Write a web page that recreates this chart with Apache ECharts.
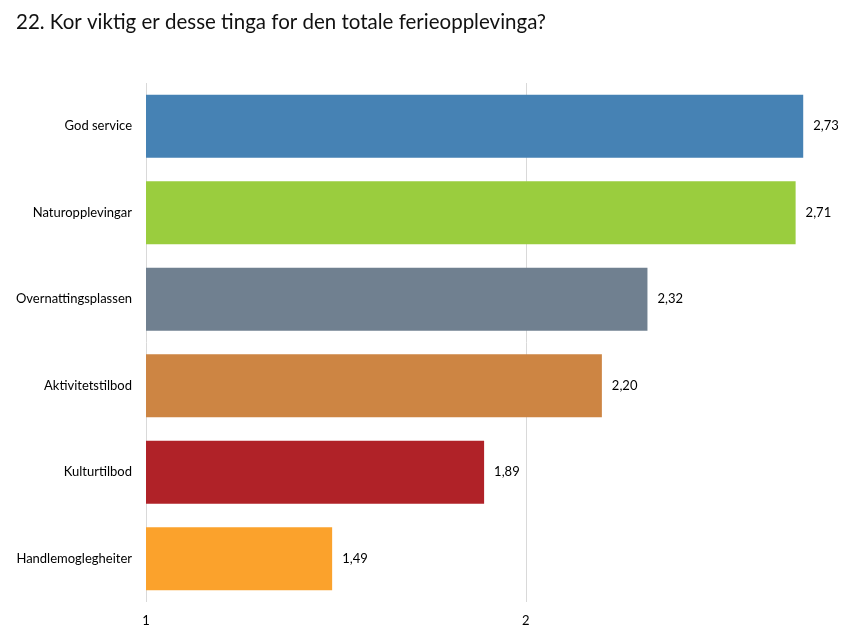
<!DOCTYPE html>
<html>
<head>
<meta charset="utf-8">
<script src="https://cdn.jsdelivr.net/npm/echarts@6/dist/echarts.min.js"></script>
<style>
  html, body { margin: 0; padding: 0; background: #fff; }
  #chart { width: 867px; height: 633px; }
</style>
</head>
<body>
<div id="chart"></div>
<script>
const categories = ['God service', 'Naturopplevingar', 'Overnattingsplassen', 'Aktivitetstilbod', 'Kulturtilbod', 'Handlemoglegheiter']
const values = [2.73, 2.71, 2.32, 2.20, 1.89, 1.49]
const colors = ['#4682B4', '#9ACD3E', '#708090', '#CD8543', '#B02228', '#FBA22C']

const chart = echarts.init(document.getElementById('chart'))

chart.setOption({
  animation: false,
  textStyle: { fontFamily: 'Lato' },
  title: {
    text: '22. Kor viktig er desse tinga for den totale ferieopplevinga?',
    left: 11,
    top: 7,
    textStyle: {
      fontFamily: 'Lato',
      fontSize: 20.5,
      fontWeight: 'normal',
      color: '#111'
    }
  },
  grid: {
    top: 83,
    bottom: 31,
    left: 146,
    right: 0,
    containLabel: false
  },
  xAxis: {
    type: 'value',
    min: 1,
    max: 2.89,
    interval: 1,
    axisLine: { show: false },
    axisTick: { show: false },
    splitLine: { showMaxLine: false, lineStyle: { color: '#d9d9d9', width: 1 } },
    axisLabel: {
      color: '#000',
      fontSize: 13,
      margin: 12,
      formatter: v => (Number.isInteger(v) ? String(v) : '')
    }
  },
  yAxis: {
    type: 'category',
    inverse: true,
    data: categories,
    axisLine: { show: false },
    axisTick: { show: false },
    axisLabel: {
      color: '#000',
      fontSize: 13,
      margin: 14
    }
  },
  series: [
    {
      type: 'bar',
      barWidth: 63,
      data: values.map((v, i) => ({ value: v, itemStyle: { color: colors[i] } })),
      label: {
        show: true,
        position: 'right',
        distance: 10,
        color: '#000',
        fontSize: 13,
        formatter: p => p.value.toFixed(2).replace('.', ',')
      }
    }
  ]
})
</script>
</body>
</html>
